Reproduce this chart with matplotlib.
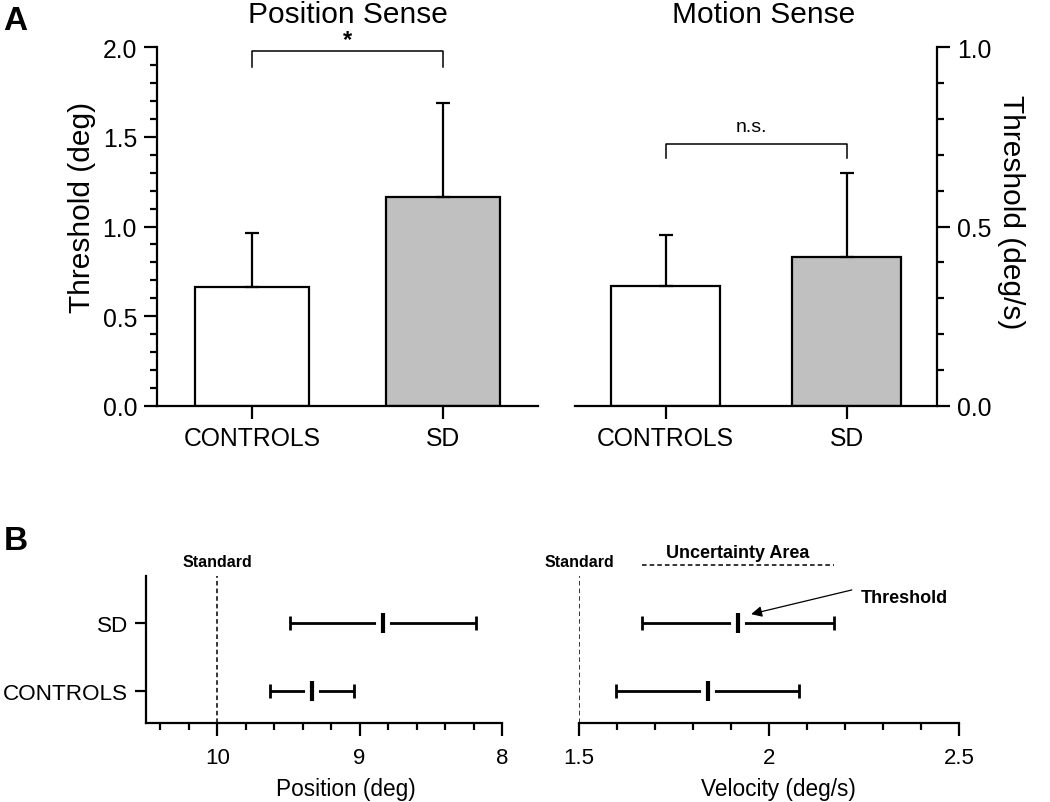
import matplotlib
matplotlib.use('Agg')
import matplotlib.pyplot as plt
from matplotlib.ticker import MultipleLocator, FormatStrFormatter, FuncFormatter

plt.rcParams['font.family'] = ['Liberation Sans', 'DejaVu Sans']

# ---- panel A data ----
groups = ["CONTROLS", "SD"]
pos_mean = [0.665, 1.165]
pos_sd = [0.30, 0.525]
mot_mean = [0.335, 0.415]
mot_sd = [0.142, 0.234]
bar_colors = ["white", "#c0c0c0"]

# ---- panel B data (threshold + uncertainty area bounds) ----
rows = ["CONTROLS", "SD"]
pos_thr = [9.335, 8.835]
pos_lo = [9.04, 8.18]
pos_hi = [9.63, 9.49]
vel_thr = [1.84, 1.918]
vel_lo = [1.597, 1.666]
vel_hi = [2.079, 2.171]
pos_standard = 10
vel_standard = 1.5

LW = 1.6
W, H = 1050, 803
fig = plt.figure(figsize=(10.5, 8.03), dpi=100)


def fbox(x0, x1, y0, y1):
    # pixel box -> figure fraction rect
    return [x0 / W, 1 - y1 / H, (x1 - x0) / W, (y1 - y0) / H]


def style_bar_axis(ax, ylim, minor):
    ax.set_xlim(-0.5, 1.5)
    ax.set_ylim(*ylim)
    ax.set_xticks([0, 1])
    ax.set_xticklabels(groups)
    ax.yaxis.set_minor_locator(MultipleLocator(minor))
    ax.yaxis.set_major_formatter(FormatStrFormatter('%.1f'))
    for s in ax.spines.values():
        s.set_linewidth(LW)
    ax.spines['top'].set_visible(False)
    ax.tick_params(which='major', length=9.4, width=LW, labelsize=17.8, pad=5)
    ax.tick_params(which='minor', length=5, width=LW)
    ax.tick_params(axis='x', which='minor', bottom=False)


x = [0, 1]

# Position sense
ax1 = fig.add_axes(fbox(157, 538, 48, 407))
ax1.bar(x, pos_mean, width=0.6, color=bar_colors, edgecolor='black', linewidth=LW, zorder=2)
ax1.errorbar(x, pos_mean, yerr=[[0, 0], pos_sd], fmt='none', ecolor='black',
             elinewidth=LW, capsize=4.7, capthick=LW, zorder=3)
style_bar_axis(ax1, (0, 2.0), 0.1)
ax1.set_yticks([0, 0.5, 1.0, 1.5, 2.0])
ax1.spines['right'].set_visible(False)
ax1.text(-0.197, 0.557, "Threshold (deg)", transform=ax1.transAxes, rotation=90,
         ha='center', va='center', fontsize=21.5)
ax1.text(0.5, 1.07, "Position Sense", transform=ax1.transAxes, ha='center',
         va='baseline', fontsize=21.5)
ax1.plot([0, 0, 1, 1], [1.89, 1.98, 1.98, 1.89], color='black', lw=1.1, clip_on=False)
ax1.text(0.5, 1.975, "*", ha='center', va='bottom', fontsize=17, fontweight='bold')

# Motion sense
ax2 = fig.add_axes(fbox(575, 937, 48, 407))
ax2.bar(x, mot_mean, width=0.6, color=bar_colors, edgecolor='black', linewidth=LW, zorder=2)
ax2.errorbar(x, mot_mean, yerr=[[0, 0], mot_sd], fmt='none', ecolor='black',
             elinewidth=LW, capsize=4.7, capthick=LW, zorder=3)
style_bar_axis(ax2, (0, 1.0), 0.1)
ax2.set_yticks([0, 0.5, 1.0])
ax2.yaxis.tick_right()
ax2.tick_params(axis='y', which='both', right=True, left=False)
ax2.spines['left'].set_visible(False)
ax2.text(1.205, 0.543, "Threshold (deg/s)", transform=ax2.transAxes, rotation=270,
         ha='center', va='center', fontsize=21.5)
ax2.text(0.522, 1.07, "Motion Sense", transform=ax2.transAxes, ha='center',
         va='baseline', fontsize=21.5)
ax2.plot([0, 0, 1, 1], [0.69, 0.73, 0.73, 0.69], color='black', lw=1.1, clip_on=False)
ax2.text(0.475, 0.755, "n.s.", ha='center', va='bottom', fontsize=14)

# ---- panel B ----
yrows = [1, 2]


def interval_axis(ax, thr, lo, hi):
    err = [[t - l for t, l in zip(thr, lo)], [h - t for t, h in zip(thr, hi)]]
    ax.errorbar(thr, yrows, xerr=err, fmt='none', ecolor='black', elinewidth=2,
                capsize=4.7, capthick=2, zorder=2)
    ax.plot(thr, yrows, ls='none', marker='|', ms=15, mew=10, color='white', zorder=3)
    ax.plot(thr, yrows, ls='none', marker='|', ms=15, mew=3, color='black', zorder=4)
    ax.set_ylim(0.53, 2.69)
    for s in ax.spines.values():
        s.set_linewidth(LW)
    ax.spines['top'].set_visible(False)
    ax.spines['right'].set_visible(False)
    ax.tick_params(which='major', length=9.4, width=LW, labelsize=16, pad=8)
    ax.tick_params(which='minor', length=5, width=LW)
    ax.tick_params(axis='y', which='minor', left=False)


fmt_g = FuncFormatter(lambda v, p: '{:g}'.format(v))

ax3 = fig.add_axes(fbox(146, 502, 577, 724))
interval_axis(ax3, pos_thr, pos_lo, pos_hi)
ax3.set_xlim(10.5, 8)
ax3.set_xticks([10, 9, 8])
ax3.xaxis.set_minor_locator(MultipleLocator(0.2))
ax3.xaxis.set_major_formatter(fmt_g)
ax3.set_yticks(yrows)
ax3.set_yticklabels(rows)
ax3.tick_params(axis='y', which='major', length=8, labelsize=16.2, pad=5)
ax3.axvline(pos_standard, color='black', lw=1.1, ls=(0, (3, 2)), zorder=1)
ax3.text(pos_standard, 2.9, "Standard", ha='center', va='center', fontsize=11.5,
         fontweight='bold')
ax3.set_xlabel("Position (deg)", fontsize=16.3)
ax3.xaxis.set_label_coords(0.562, -0.37)

ax4 = fig.add_axes(fbox(579, 959, 577, 724))
interval_axis(ax4, vel_thr, vel_lo, vel_hi)
ax4.set_xlim(1.5, 2.5)
ax4.set_xticks([1.5, 2, 2.5])
ax4.xaxis.set_minor_locator(MultipleLocator(0.1))
ax4.xaxis.set_major_formatter(fmt_g)
ax4.set_yticks([])
ax4.spines['left'].set_visible(False)
ax4.axvline(vel_standard, color='black', lw=1.1, ls=(0, (3, 2)), zorder=1)
ax4.text(vel_standard, 2.9, "Standard", ha='center', va='center', fontsize=11.5,
         fontweight='bold')
ax4.plot([vel_lo[1], vel_hi[1]], [2.85, 2.85], color='black', lw=1.1,
         ls=(0, (3, 2)), clip_on=False)
ax4.text((vel_lo[1] + vel_hi[1]) / 2, 3.04, "Uncertainty Area", ha='center',
         va='center', fontsize=13, fontweight='bold')
ax4.text(2.242, 2.37, "Threshold", ha='left', va='center', fontsize=13, fontweight='bold')
ax4.annotate('', xy=(vel_thr[1] + 0.035, 2.13), xytext=(2.218, 2.485),
             arrowprops=dict(arrowstyle='-|>', lw=0.9, color='black',
                             mutation_scale=16, shrinkA=0, shrinkB=0))
ax4.set_xlabel("Velocity (deg/s)", fontsize=16.3)
ax4.xaxis.set_label_coords(0.524, -0.37)

fig.text(0.003, 0.992, "A", fontsize=24, fontweight='bold', va='top', ha='left')
fig.text(0.004, 0.345, "B", fontsize=24, fontweight='bold', va='top', ha='left')

fig.savefig('out.png', dpi=100)
